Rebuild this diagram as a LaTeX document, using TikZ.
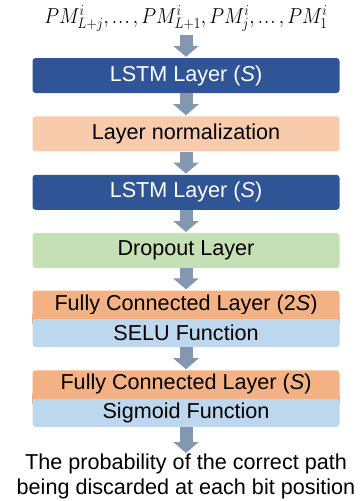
\RequirePackage{fix-cm}
\documentclass[tikz,border=0pt]{standalone}
\usepackage[no-math]{fontspec}
\setmainfont{Liberation Sans}
\usepackage{tikz}
\usetikzlibrary{arrows.meta,positioning}
\definecolor{DBlue}{HTML}{2F5597}
\definecolor{Peach}{HTML}{F8CBAD}
\definecolor{GreenF}{HTML}{C5E0B4}
\definecolor{OrangeF}{HTML}{F4B183}
\definecolor{LBlue}{HTML}{BDD7EE}
\definecolor{ArrG}{HTML}{8497B0}
\newcommand{\tightdots}{\mathinner{\ldotp\mkern-2mu\ldotp\mkern-2mu\ldotp}}

\begin{document}
\begin{tikzpicture}[x=1pt,y=1pt,font=\fontsize{21.6}{25}\selectfont,
    blk/.style={fill=#1,rounded corners=3pt,minimum height=35pt,
      minimum width=307pt,inner sep=0pt,align=center},
    half/.style={blk=#1,minimum height=28pt},
    flow/.style={-{Triangle[width=25pt,length=11pt]},ArrG,line width=13pt,
      shorten >=1pt}]
  \useasboundingbox (0,0) rectangle (362,-501);
  \node[blk=DBlue,text=white] (L1) at (186,-75.5) {LSTM Layer (\textit{S})};
  \node[inner sep=0pt, above=26pt of L1] (IN)
       {\resizebox{283pt}{\height}{$PM^{i}_{L+j},\tightdots,PM^{i}_{L+1},PM^{i}_{j},\tightdots,PM^{i}_{1}$}};
  \node[blk=Peach, below=23pt of L1] (LN) {Layer normalization};
  \node[blk=DBlue,text=white, below=23pt of LN] (L2) {LSTM Layer (\textit{S})};
  \node[blk=GreenF, below=23pt of L2] (DO) {Dropout Layer};
  % fully connected + activation pairs
  \node[half=OrangeF, below=22pt of DO] (FC1) {Fully Connected Layer (2\textit{S})};
  \fill[OrangeF] ([yshift=5pt]FC1.south west) rectangle ([yshift=-5pt]FC1.south east);
  \node[half=LBlue, below=0pt of FC1] (SE) {SELU Function};
  \node[half=OrangeF, below=23pt of SE] (FC2) {Fully Connected Layer (\textit{S})};
  \fill[OrangeF] ([yshift=5pt]FC2.south west) rectangle ([yshift=-5pt]FC2.south east);
  \node[half=LBlue, below=0pt of FC2] (SG) {Sigmoid Function};
  \node[inner sep=0pt, below=27pt of SG, align=center] (OUT)
       {The probability of the correct path\\being discarded at each bit position};
  \draw[flow,shorten <=3pt] (IN) -- (L1);
  \foreach \a/\b in {L1/LN,LN/L2,L2/DO,DO/FC1,SE/FC2,SG/OUT}
    \draw[flow] (\a) -- (\b);
\end{tikzpicture}
\end{document}
